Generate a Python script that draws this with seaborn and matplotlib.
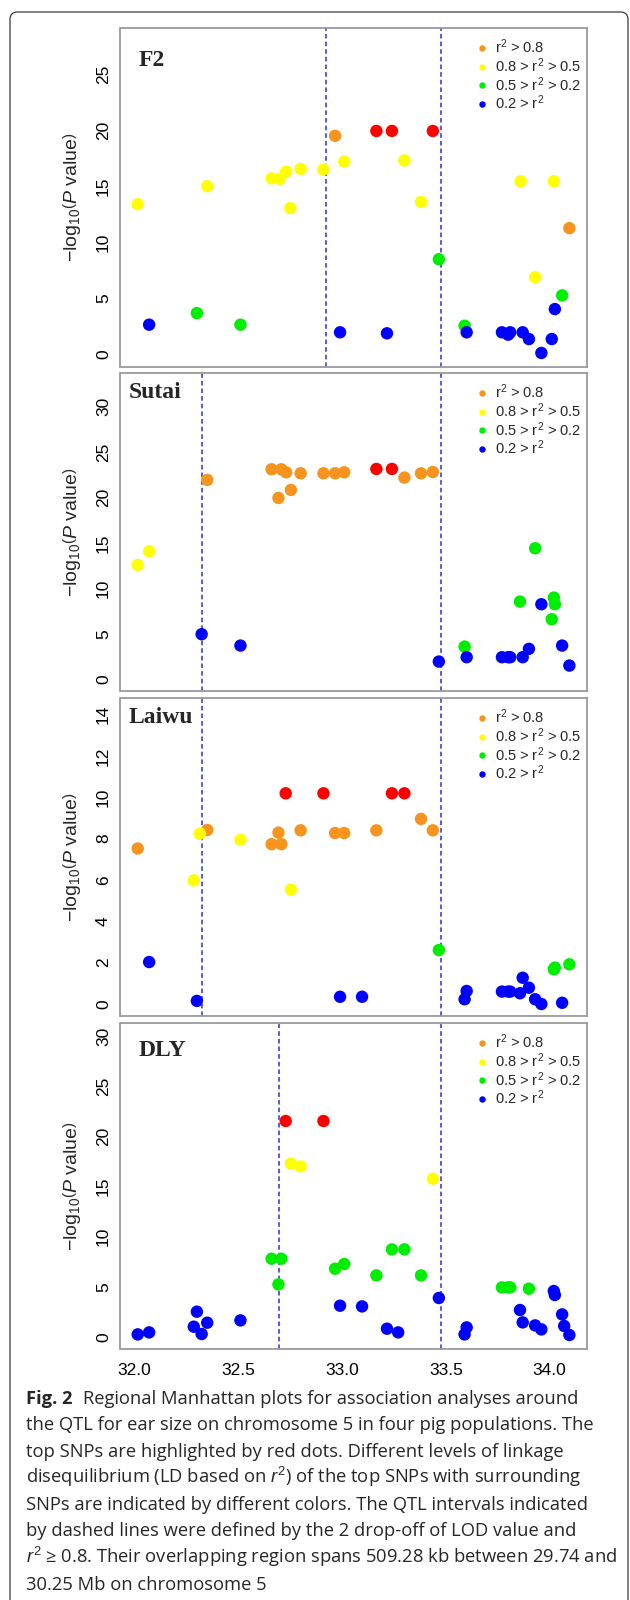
import matplotlib
matplotlib.use("Agg")
import matplotlib.pyplot as plt
import pandas as pd
import seaborn as sns
from matplotlib.lines import Line2D
from matplotlib.patches import FancyBboxPatch

# ---- data (position in Mb, -log10 P, LD class) ----
f2_pos = [32.015, 32.35, 32.66, 32.70, 32.73, 32.75, 32.80, 32.91, 33.01, 33.30, 33.38, 33.86, 34.02, 33.93,
          32.966, 34.095,
          33.165, 33.24, 33.437,
          33.466, 32.30, 32.51, 33.59, 34.06,
          32.07, 32.99, 33.216, 33.60, 33.77, 33.80, 33.81, 33.87, 33.90, 33.96, 34.01, 34.025]
f2_logp = [13.4, 15.0, 15.7, 15.66, 16.3, 13.05, 16.55, 16.5, 17.2, 17.3, 13.6, 15.45, 15.45, 6.9,
           19.5, 11.27,
           19.93, 19.93, 19.93,
           8.5, 3.7, 2.67, 2.58, 5.28,
           2.67, 1.99, 1.9, 1.99, 1.99, 1.78, 1.99, 1.99, 1.39, 0.15, 1.39, 4.06]
f2_ld = ["mid"] * 14 + ["high"] * 2 + ["top"] * 3 + ["low"] * 5 + ["none"] * 12

sutai_pos = [32.015, 32.07,
             32.35, 32.66, 32.707, 32.73, 32.693, 32.753, 32.80, 32.91, 32.966, 33.01, 33.30, 33.38, 33.437,
             33.165, 33.24,
             33.59, 33.857, 33.93, 34.02, 34.025, 34.01,
             32.323, 32.51, 33.466, 33.60, 33.77, 33.80, 33.81, 33.87, 33.90, 33.96, 34.06, 34.095]
sutai_logp = [12.58, 14.08,
              21.93, 23.1, 23.1, 22.77, 19.95, 20.83, 22.66, 22.66, 22.66, 22.77, 22.19, 22.66, 22.8,
              23.14, 23.14,
              3.59, 8.54, 14.41, 8.98, 8.25, 6.6,
              4.95, 3.7, 1.94, 2.42, 2.42, 2.42, 2.42, 2.42, 3.34, 8.25, 3.7, 1.5]
sutai_ld = ["mid"] * 2 + ["high"] * 13 + ["top"] * 2 + ["low"] * 6 + ["none"] * 12

laiwu_pos = [32.015, 32.35, 32.66, 32.707, 32.693, 32.80, 32.966, 33.01, 33.165, 33.38, 33.437,
             32.314, 32.51, 32.285, 32.753,
             32.728, 32.91, 33.24, 33.30,
             33.466, 34.02, 34.025, 34.095,
             32.07, 32.30, 32.99, 33.096, 33.59, 33.60, 33.77, 33.80, 33.81, 33.857, 33.87, 33.90, 33.93,
             33.96, 34.06]
laiwu_logp = [7.52, 8.42, 7.73, 7.73, 8.29, 8.4, 8.27, 8.27, 8.4, 8.95, 8.4,
              8.24, 7.94, 5.98, 5.53,
              10.19, 10.19, 10.19, 10.19,
              2.61, 1.68, 1.76, 1.92,
              2.03, 0.15, 0.35, 0.35, 0.23, 0.63, 0.6, 0.6, 0.6, 0.52, 1.27, 0.79, 0.23,
              0.0, 0.06]
laiwu_ld = ["high"] * 11 + ["mid"] * 4 + ["top"] * 4 + ["low"] * 4 + ["none"] * 15

dly_pos = [32.728, 32.91,
           32.753, 32.80, 33.437,
           32.66, 32.707, 32.693, 32.966, 33.01, 33.165, 33.24, 33.30, 33.38, 33.77, 33.80, 33.81, 33.90,
           32.015, 32.07, 32.285, 32.30, 32.323, 32.35, 32.51, 32.99, 33.096, 33.216, 33.27, 33.466,
           33.59, 33.60, 33.857, 33.87, 33.93, 33.96, 34.02, 34.025, 34.06, 34.07, 34.095]
dly_logp = [21.57, 21.57,
            17.3, 17.03, 15.8,
            7.8, 7.8, 5.23, 6.8, 7.27, 6.13, 8.73, 8.73, 6.13, 4.93, 4.93, 4.93, 4.8,
            0.23, 0.43, 1.0, 2.5, 0.27, 1.4, 1.63, 3.1, 3.03, 0.8, 0.43, 3.87,
            0.23, 0.93, 2.67, 1.43, 1.13, 0.73, 4.57, 4.17, 2.23, 1.07, 0.17]
dly_ld = ["top"] * 2 + ["mid"] * 3 + ["low"] * 13 + ["none"] * 23

panel_names = ["F2", "Sutai", "Laiwu", "DLY"]
qtl_bounds = [[32.923, 33.477], [32.327, 33.477], [32.327, 33.477], [32.694, 33.477]]
x_ticks = [32.0, 32.5, 33.0, 33.5, 34.0]

legend_keys = ["high", "mid", "low", "none"]
legend_labels = [r"$\mathrm{r^2}$ > 0.8", r"0.8 > $\mathrm{r^2}$ > 0.5",
                 r"0.5 > $\mathrm{r^2}$ > 0.2", r"0.2 > $\mathrm{r^2}$"]

caption_head = "Fig. 2"
caption_lines = [
    "Regional Manhattan plots for association analyses around",
    "the QTL for ear size on chromosome 5 in four pig populations. The",
    "top SNPs are highlighted by red dots. Different levels of linkage",
    r"disequilibrium (LD based on $\mathit{r}^2$) of the top SNPs with surrounding",
    "SNPs are indicated by different colors. The QTL intervals indicated",
    "by dashed lines were defined by the 2 drop-off of LOD value and",
    r"$\mathit{r}^2$ ≥ 0.8. Their overlapping region spans 509.28 kb between 29.74 and",
    "30.25 Mb on chromosome 5",
]

# ---- style ----
sns.set_style("white")
plt.rcParams["font.family"] = ["Liberation Sans", "DejaVu Sans"]
plt.rcParams["mathtext.fontset"] = "custom"
plt.rcParams["mathtext.rm"] = "Liberation Sans"
plt.rcParams["mathtext.it"] = "Liberation Sans:italic"
plt.rcParams["mathtext.bf"] = "Liberation Sans:bold"

ld_colors = {"top": "#FF0000", "high": "#F7941D", "mid": "#FFFF00",
             "low": "#00EE00", "none": "#0000FF"}
frame_color = "#9A9A9A"

W, H = 630, 1600
fig = plt.figure(figsize=(W / 100, H / 100), dpi=100)

# panel boxes in pixels: (top, bottom), y limits, y ticks, label anchor (axes fraction)
panel_px = [(28, 367), (373, 691), (698, 1016), (1023, 1349)]
panel_ylim = [(-1.1, 29.1), (-1.3, 33.7), (-0.58, 14.8), (-1.23, 31.37)]
panel_yticks = [range(0, 26, 5), range(0, 31, 5), range(0, 15, 2), range(0, 31, 5)]
label_xy = [(0.039, 0.905), (0.017, 0.94), (0.017, 0.94), (0.039, 0.917)]

datasets = [(f2_pos, f2_logp, f2_ld), (sutai_pos, sutai_logp, sutai_ld),
            (laiwu_pos, laiwu_logp, laiwu_ld), (dly_pos, dly_logp, dly_ld)]

ax_left, ax_right = 120.5, 586.6
for i, (pos, logp, ld) in enumerate(datasets):
    top, bot = panel_px[i]
    ax = fig.add_axes([ax_left / W, 1 - bot / H, (ax_right - ax_left) / W, (bot - top) / H])
    df = pd.DataFrame({"pos": pos, "logp": logp, "ld": ld})
    sns.scatterplot(data=df, x="pos", y="logp", hue="ld", palette=ld_colors,
                    s=80, linewidth=0, legend=False, ax=ax, zorder=3)
    for b in qtl_bounds[i]:
        ax.axvline(b, color="#2B2BE8", lw=1.1, ls=(0, (3, 2)), zorder=2)

    ax.set_xlim(31.932, 34.178)
    ax.set_ylim(*panel_ylim[i])
    ax.set_xticks(x_ticks)
    ax.set_yticks(list(panel_yticks[i]))
    ax.set_xlabel("")
    if i == 3:
        ax.set_xticklabels([f"{t:.1f}" for t in x_ticks])
    else:
        ax.set_xticklabels([])
    for sp in ax.spines.values():
        sp.set_color(frame_color)
        sp.set_linewidth(1.3)
    ax.tick_params(direction="out", length=3.8, width=0.9, color=frame_color,
                   labelsize=12.5, labelcolor="black")
    ax.tick_params(axis="x", pad=6)
    ax.tick_params(axis="y", labelrotation=90, pad=3)
    for lbl in ax.get_yticklabels():
        lbl.set_va("center")

    ax.set_ylabel(r"$\mathrm{-log_{10}}\left(\mathit{P}\mathrm{\ value}\right)$", fontsize=14)
    ax.yaxis.set_label_coords(-0.08, 0.5)

    ax.text(*label_xy[i], panel_names[i], transform=ax.transAxes, ha="left", va="center",
            fontsize=17, fontweight="bold", family=["Liberation Serif", "DejaVu Serif"])

    handles = [Line2D([], [], ls="none", marker="o", ms=4.6, mec="none",
                      mfc=ld_colors[k]) for k in legend_keys]
    ax.legend(handles, legend_labels, loc="upper left",
              bbox_to_anchor=(0.745, 1.0 - 2.5 / (bot - top)),
              frameon=False, fontsize=10.5, handlelength=1.0, handletextpad=0.4,
              labelspacing=0.0, borderpad=0, borderaxespad=0.5)

# outer rounded frame
fig.patches.append(FancyBboxPatch((10 / W, -0.02), 618 / W, 1 - 12 / H + 0.02,
                                  boxstyle="round,pad=0,rounding_size=0.012",
                                  transform=fig.transFigure, fill=False,
                                  ec="#3A3A3A", lw=0.9, mutation_aspect=W / H))

# caption, sized so that the widest line matches the reference width
cap_font = ["Open Sans", "DejaVu Sans"]
cap_left, cap_right = 26, 614
base0, step = 1403.5, 26.6
renderer = fig.canvas.get_renderer()


def draw_caption(size):
    objs = []
    head = fig.text(cap_left / W, 1 - base0 / H, caption_head, fontsize=size,
                    fontweight="bold", family=cap_font, va="baseline")
    objs.append(head)
    hw = head.get_window_extent(renderer).width
    for j, line in enumerate(caption_lines):
        x = cap_left + (hw + 0.55 * size * 100 / 72 if j == 0 else 0)
        objs.append(fig.text(x / W, 1 - (base0 + j * step) / H, line, fontsize=size,
                             family=cap_font, va="baseline"))
    return objs


objs = draw_caption(13)
widest = max(t.get_window_extent(renderer).x1 for t in objs) - cap_left
for t in objs:
    t.remove()
draw_caption(13 * (cap_right - cap_left) / widest)

fig.savefig("out.png", dpi=100)
